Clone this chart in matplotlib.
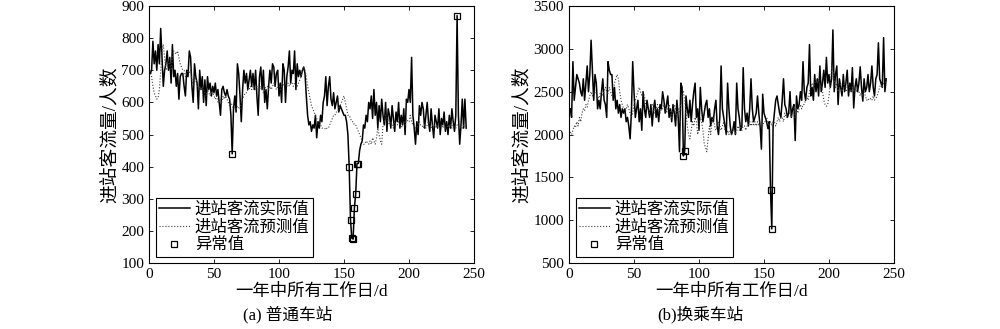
import matplotlib.pyplot as plt
import numpy as np

plt.rcParams['font.family'] = ['Liberation Serif', 'Noto Sans CJK SC']
plt.rcParams['axes.unicode_minus'] = False

# (a) 普通车站：实际值、预测值（按工作日顺序）
a_actual = [
    690, 700, 790, 720, 760, 700, 780, 720, 830, 740,
    650, 700, 720, 760, 700, 740, 660, 780, 680, 700,
    650, 690, 610, 680, 690, 690, 650, 620, 700, 680,
    760, 740, 650, 600, 720, 680, 660, 580, 700, 640,
    680, 600, 670, 590, 680, 640, 660, 620, 650, 630,
    660, 620, 640, 600, 560, 640, 650, 630, 620, 640,
    620, 610, 560, 440, 580, 620, 570, 720, 690, 620,
    540, 640, 700, 660, 690, 640, 670, 700, 650, 690,
    640, 700, 620, 560, 680, 710, 640, 700, 600, 640,
    580, 650, 700, 660, 720, 710, 650, 690, 700, 620,
    660, 600, 720, 700, 600, 680, 710, 760, 660, 700,
    690, 760, 640, 720, 680, 700, 680, 700, 710, 690,
    620, 560, 530, 540, 510, 530, 520, 560, 490, 540,
    520, 560, 540, 600, 620, 680, 590, 650, 680, 610,
    590, 630, 580, 600, 620, 570, 590, 580, 570, 560,
    560, 540, 500, 400, 235, 178, 175, 272, 315, 410,
    410, 450, 470, 480, 530, 520, 560, 540, 600, 580,
    620, 550, 640, 560, 600, 520, 590, 540, 610, 560,
    530, 600, 510, 580, 560, 520, 590, 550, 510, 570,
    540, 600, 520, 560, 530, 580, 500, 610, 600, 640,
    600, 740, 560, 520, 470, 540, 500, 590, 560, 600,
    580, 520, 560, 600, 540, 510, 580, 530, 490, 560,
    540, 520, 580, 500, 550, 530, 570, 510, 540, 500,
    560, 520, 580, 540, 510, 560, 870, 560, 470, 530,
    610, 520, 610, 520,
]
a_pred = [
    700, 680, 650, 630, 620, 610, 615, 640, 700, 760,
    780, 740, 700, 710, 730, 720, 700, 740, 760, 755,
    750, 760, 740, 720, 710, 700, 700, 680, 690, 700,
    690, 700, 670, 650, 660, 680, 660, 640, 650, 640,
    650, 640, 630, 620, 640, 630, 620, 630, 630, 620,
    610, 620, 600, 600, 610, 600, 620, 610, 620, 610,
    600, 590, 600, 590, 580, 585, 580, 590, 580, 580,
    600, 610, 620, 630, 630, 640, 640, 650, 640, 650,
    650, 640, 650, 640, 640, 650, 640, 630, 640, 650,
    650, 640, 650, 640, 650, 660, 650, 640, 650, 650,
    640, 650, 660, 650, 660, 650, 660, 650, 660, 660,
    650, 660, 660, 650, 660, 670, 680, 700, 710, 700,
    680, 650, 630, 610, 590, 580, 570, 560, 550, 540,
    530, 530, 520, 520, 520, 515, 520, 520, 530, 540,
    550, 560, 560, 570, 570, 580, 590, 600, 610, 620,
    600, 580, 560, 560, 550, 540, 540, 530, 530, 520,
    510, 500, 490, 480, 470, 470, 480, 475, 470, 480,
    470, 490, 480, 470, 490, 520, 500, 480, 470, 530,
    540, 560, 550, 540, 530, 540, 530, 520, 540, 530,
    530, 540, 530, 520, 530, 540, 530, 550, 540, 540,
    560, 540, 530, 530, 520, 520, 530, 540, 530, 530,
    520, 530, 520, 530, 540, 530, 520, 530, 520, 530,
    520, 530, 520, 520, 530, 520, 530, 520, 520, 530,
    520, 530, 520, 530, 520, 520, 530, 530, 520, 530,
    520, 530, 525, 520,
]
a_abnormal_days = [64, 154, 155, 156, 157, 158, 159, 160, 161, 237]

# (b) 换乘车站
b_actual = [
    2300, 2200, 2850, 2400, 2550, 2700, 2650, 2600, 2500, 2450,
    2650, 2400, 2600, 2800, 2500, 2700, 3100, 2750, 2400, 2700,
    2600, 2300, 2400, 2300, 2500, 2650, 2400, 2350, 2200, 2850,
    2750, 2700, 2700, 2400, 2550, 2300, 2400, 2250, 2350, 2200,
    2300, 2250, 2300, 2150, 2200, 2100, 1950, 2250, 2850, 2500,
    2200, 2300, 2400, 2150, 2300, 2050, 2500, 2300, 2200, 2400,
    2300, 2200, 2350, 2100, 2300, 2400, 2200, 2300, 2150, 2350,
    2300, 2500, 2400, 2250, 2350, 2450, 2200, 2300, 2150, 2350,
    2250, 2100, 2400, 2200, 1800, 2600, 2550, 1750, 1810, 2450,
    2300, 2200, 2400, 2150, 2350, 2500, 2600, 2200, 2300, 2050,
    2550, 2300, 2150, 2250, 2350, 2400, 2200, 2300, 2100, 2200,
    2150, 2300, 2400, 2100, 2000, 2200, 2800, 2300, 2200, 2100,
    2000, 2600, 2300, 2100, 2000, 2050, 2150, 2000, 2600, 2300,
    2200, 2050, 2100, 2780, 2300, 2150, 2250, 2100, 2300, 2650,
    2300, 2150, 2200, 2250, 2450, 2250, 2100, 1830, 2470, 2250,
    2200, 2150, 2070, 2150, 1350, 900, 2100, 2250, 2400, 2450,
    2350, 2250, 2200, 2400, 2650, 2350, 2300, 2200, 2250, 2500,
    2200, 2300, 2350, 1930, 2450, 2300, 2350, 2500, 2400, 2850,
    2500, 2400, 2550, 2600, 3050, 2450, 2550, 2400, 2700, 2500,
    2650, 2450, 2800, 2500, 2600, 2750, 2550, 2900, 2600, 2700,
    2550, 2650, 3220, 2500, 2700, 2800, 2350, 2650, 2550, 2450,
    2700, 2500, 2600, 2750, 2450, 2600, 2500, 2780, 2310, 2550,
    2650, 2500, 2600, 2790, 2550, 2390, 2650, 2500, 2550, 2700,
    2500, 2600, 2800, 2550, 2450, 2650, 2700, 3070, 2650, 2600,
    2550, 3130, 2500, 2650,
]
b_pred = [
    2030, 2000, 2050, 2100, 2080, 2150, 2100, 2200, 2150, 2250,
    2300, 2280, 2350, 2320, 2400, 2450, 2500, 2450, 2500, 2520,
    2480, 2450, 2420, 2480, 2500, 2460, 2500, 2550, 2500, 2480,
    2550, 2500, 2450, 2500, 2600, 2650, 2700, 2650, 2500, 2400,
    2350, 2300, 2250, 2300, 2350, 2300, 2250, 2200, 2250, 2350,
    2400, 2450, 2500, 2550, 2500, 2450, 2500, 2450, 2350, 2300,
    2300, 2250, 2300, 2350, 2300, 2250, 2300, 2350, 2300, 2250,
    2300, 2300, 2350, 2300, 2250, 2300, 2350, 2300, 2200, 2300,
    2350, 2300, 2200, 2300, 2250, 2350, 2450, 2500, 2400, 2250,
    2100, 2000, 1950, 2050, 2150, 2100, 2200, 2150, 2000, 2100,
    2200, 2150, 2050, 1900, 1850, 1800, 1950, 2100, 2000, 2150,
    2200, 2100, 2050, 2100, 2150, 2100, 2050, 2100, 2150, 2050,
    2000, 2050, 2000, 2050, 2000, 2050, 2050, 2000, 2050, 2100,
    2050, 2100, 2050, 2100, 2100, 2050, 2100, 2100, 2150, 2100,
    2150, 2100, 2150, 2100, 2150, 2100, 2150, 2150, 2100, 2150,
    2150, 2200, 2150, 2100, 2150, 2100, 2150, 2150, 2100, 2150,
    2200, 2150, 2200, 2200, 2150, 2250, 2200, 2200, 2250, 2250,
    2200, 2250, 2250, 2200, 2300, 2250, 2300, 2350, 2300, 2350,
    2350, 2400, 2450, 2400, 2500, 2550, 2600, 2550, 2600, 2650,
    2600, 2650, 2550, 2600, 2500, 2400, 2350, 2330, 2350, 2450,
    2600, 2780, 2750, 2650, 2550, 2600, 2500, 2550, 2600, 2500,
    2550, 2600, 2500, 2550, 2600, 2550, 2500, 2550, 2500, 2550,
    2500, 2550, 2500, 2450, 2500, 2450, 2500, 2450, 2400, 2420,
    2400, 2420, 2400, 2450, 2400, 2420, 2450, 2500, 2550, 2600,
    2550, 2600, 2600, 2650,
]
b_abnormal_days = [88, 89, 155, 156]


def draw(ax, actual, pred, abnormal_days, ylim, yticks):
    days = np.arange(1, len(actual) + 1)
    actual = np.array(actual)
    ax.plot(days, actual, color='black', lw=1.1, label='进站客流实际值')
    ax.plot(days, pred, color='#404040', lw=0.8, ls=':', label='进站客流预测值')
    idx = np.array(abnormal_days) - 1
    ax.plot(days[idx], actual[idx], 's', ms=5, mfc='none', mec='black',
            mew=0.9, label='异常值')
    ax.set_xlim(0, 250)
    ax.set_ylim(*ylim)
    ax.set_xticks(range(0, 251, 50))
    ax.set_yticks(yticks)
    ax.tick_params(direction='in', top=True, right=True, labelsize=11,
                   length=3, width=0.6)
    for s in ax.spines.values():
        s.set_linewidth(0.8)
    ax.set_xlabel('一年中所有工作日/d', fontsize=12.5, labelpad=2)
    ax.set_ylabel('进站客流量/人数', fontsize=13.5, labelpad=2)
    leg = ax.legend(loc='lower left', fontsize=11.8, frameon=True, fancybox=False,
                    edgecolor='black', framealpha=1, handlelength=1.9,
                    borderpad=0.2, labelspacing=0.12, handletextpad=0.3,
                    borderaxespad=0.4)
    leg.get_frame().set_linewidth(0.8)


fig = plt.figure(figsize=(10, 3.29), dpi=100)
ax1 = fig.add_axes([0.149, 0.2, 0.325, 0.782])
ax2 = fig.add_axes([0.569, 0.2, 0.325, 0.782])

draw(ax1, a_actual, a_pred, a_abnormal_days, (100, 900), range(100, 901, 100))
draw(ax2, b_actual, b_pred, b_abnormal_days, (500, 3500), range(500, 3501, 500))

fig.text(0.288, 0.043, '(a) 普通车站', ha='center', va='center', fontsize=12)
fig.text(0.70, 0.043, '(b)换乘车站', ha='center', va='center', fontsize=12)

fig.savefig('out.png', dpi=100)
